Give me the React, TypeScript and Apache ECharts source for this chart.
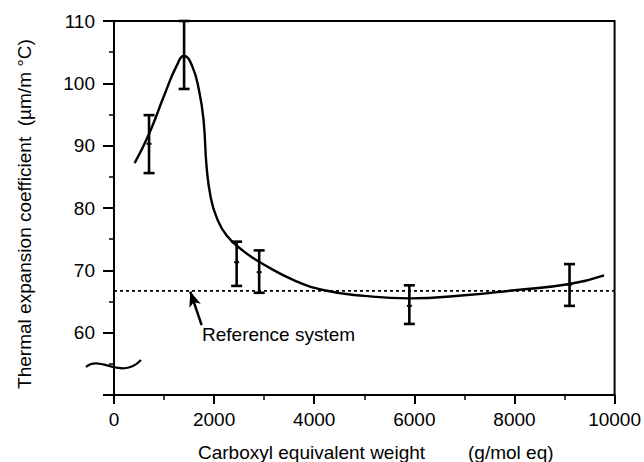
import React, { useEffect, useRef } from "react";
import * as echarts from "echarts";

// ---- data ----
const curveX = [412, 706, 1000, 1250, 1400, 1560, 1700, 1790, 1850, 1930, 2050, 2250, 2600, 3000, 3600, 4200, 5000, 5900, 7000, 8000, 9100, 9790];
const curveY = [87.2, 92.0, 98.0, 102.8, 104.4, 102.8, 98.8, 94.0, 86.6, 81.8, 78.5, 75.6, 73.0, 70.9, 68.4, 66.8, 65.9, 65.5, 66.0, 66.8, 67.8, 69.2];

const errX = [700, 1400, 2450, 2900, 5900, 9100];
const errLow = [85.6, 99.1, 67.5, 66.4, 61.4, 64.3];
const errHigh = [94.9, 110, 74.6, 73.2, 67.6, 71.0];
const errMean = [90.3, 104.3, 71.3, 69.7, 64.3, 67.7];

const referenceLevel = 66.7;
const arrowFrom = [1751, 61.2];
const arrowTo = [1524, 66.6];

const xTitle = "Carboxyl equivalent weight";
const xUnit = "(g/mol eq)";
const yTitle = "Thermal expansion coefficient  (µm/m °C)";
const refLabel = "Reference system";

const FONT = "'Liberation Sans', Arial, Helvetica, sans-serif";

export default function App() {
  const ref = useRef<HTMLDivElement>(null);
  useEffect(() => {
    document.body.style.margin = "0";
    const chart = echarts.init(ref.current!, null, { renderer: "svg" });

    const axisCommon = {
      axisLine: { show: true, lineStyle: { color: "#000", width: 2 } },
      axisTick: { show: true, inside: false, lineStyle: { color: "#000", width: 2 } },
      minorTick: { show: true, splitNumber: 2, length: 5, lineStyle: { color: "#000", width: 1.5 } },
      splitLine: { show: false },
      minorSplitLine: { show: false },
    };

    chart.setOption({
      animation: false,
      backgroundColor: "#fff",
      grid: {
        left: 114,
        right: 20,
        top: 21,
        bottom: 67,
        show: true,
        borderColor: "#000",
        borderWidth: 2,
      },
      xAxis: {
        type: "value",
        min: 0,
        max: 10000,
        interval: 2000,
        ...axisCommon,
        axisTick: { ...axisCommon.axisTick, length: 9 },
        axisLabel: {
          color: "#000",
          fontSize: 19,
          fontFamily: FONT,
          margin: 15,
          formatter: (v: number) => String(v),
        },
      },
      yAxis: {
        type: "value",
        min: 50,
        max: 110,
        interval: 10,
        ...axisCommon,
        axisTick: { ...axisCommon.axisTick, length: 11 },
        axisLabel: {
          color: "#000",
          fontSize: 19,
          fontFamily: FONT,
          margin: 19,
          formatter: (v: number) => (v === 50 ? "" : String(v)),
        },
      },
      series: [
        {
          type: "line",
          data: [
            [0, referenceLevel],
            [10000, referenceLevel],
          ],
          showSymbol: false,
          symbol: "none",
          lineStyle: { color: "#000", width: 1.8, type: [3, 3] },
          silent: true,
          markLine: {
            silent: true,
            symbol: ["none", "arrow"],
            symbolSize: [9, 15],
            label: { show: false },
            lineStyle: { color: "#000", width: 2.5, type: "solid" },
            data: [[{ coord: arrowFrom }, { coord: arrowTo }]],
          },
        },
        {
          type: "line",
          data: curveX.map((x, i) => [x, curveY[i]]),
          smooth: 0.5,
          showSymbol: false,
          symbol: "none",
          lineStyle: { color: "#000", width: 2.4 },
          silent: true,
        },
        {
          type: "custom",
          silent: true,
          data: errX.map((x, i) => [x, errLow[i], errHigh[i], errMean[i]]),
          renderItem: (params: any, api: any) => {
            const x = api.value(0);
            const lo = api.coord([x, api.value(1)]);
            const hi = api.coord([x, api.value(2)]);
            const mid = api.coord([x, api.value(3)]);
            const cap = 5.5;
            const st = { stroke: "#000", lineWidth: 2.6 };
            return {
              type: "group",
              children: [
                { type: "line", shape: { x1: lo[0], y1: lo[1], x2: hi[0], y2: hi[1] }, style: st },
                { type: "line", shape: { x1: lo[0] - cap, y1: lo[1], x2: lo[0] + cap, y2: lo[1] }, style: st },
                { type: "line", shape: { x1: hi[0] - cap, y1: hi[1], x2: hi[0] + cap, y2: hi[1] }, style: st },
                { type: "line", shape: { x1: mid[0] - 2.5, y1: mid[1], x2: mid[0] + 2.5, y2: mid[1] }, style: { stroke: "#000", lineWidth: 2 } },
              ],
            };
          },
        },
      ],
      graphic: [
        {
          type: "bezierCurve",
          shape: { x1: 86, y1: 367, cpx1: 100, cpy1: 354, cpx2: 121, cpy2: 381, x2: 141, y2: 360 },
          style: { stroke: "#000", lineWidth: 2.2, fill: "none" },
          z: 10,
        },
        {
          type: "text",
          x: 202,
          y: 325,
          style: { text: refLabel, fontSize: 19, fontFamily: FONT, fill: "#000", align: "left", verticalAlign: "top" },
        },
        {
          type: "text",
          x: 198,
          y: 452,
          style: { text: xTitle, fontSize: 19, fontFamily: FONT, fill: "#000", align: "left", verticalAlign: "middle" },
        },
        {
          type: "text",
          x: 468,
          y: 452,
          style: { text: xUnit, fontSize: 19, fontFamily: FONT, fill: "#000", align: "left", verticalAlign: "middle" },
        },
        {
          type: "text",
          x: 24,
          y: 214,
          rotation: Math.PI / 2,
          style: { text: yTitle, fontSize: 19, fontFamily: FONT, fill: "#000", align: "center", verticalAlign: "middle" },
        },
      ],
    });
    return () => chart.dispose();
  }, []);
  return <div ref={ref} style={{ position: "absolute", left: 0, top: 0, width: 644, height: 462 }} />;
}
